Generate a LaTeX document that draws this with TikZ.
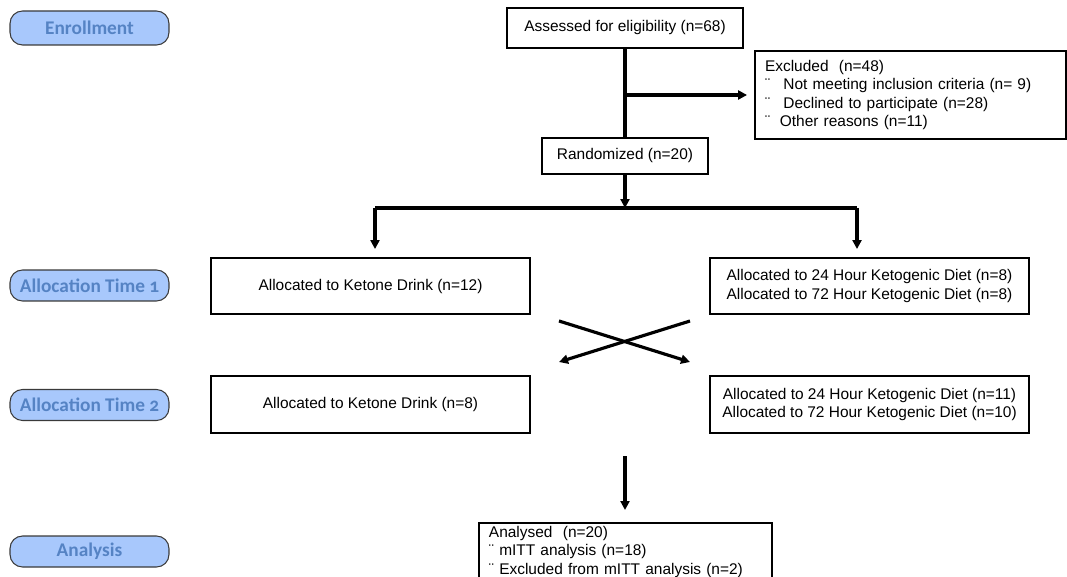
\documentclass[tikz,border=0pt]{standalone}
\usepackage{fontspec}
\setmainfont{Liberation Sans}
\newfontfamily\labelfont{Carlito}[Numbers=OldStyle]
\usepackage{tikz}
\usetikzlibrary{arrows.meta, positioning}
\definecolor{labelfill}{HTML}{A8C8FC}
\definecolor{labeltext}{HTML}{5583C4}
\definecolor{labeldraw}{HTML}{3A3A3A}

\begin{document}
\begin{tikzpicture}[
    x=0.02cm, y=-0.02cm,
    stagebox/.style={rectangle, rounded corners=2.5mm, fill=labelfill, draw=labeldraw, line width=0.6pt,
                     minimum width=3.18cm, minimum height=0.62cm, inner sep=0pt,
                     text=labeltext, font=\labelfont\fontsize{11}{12}\selectfont\bfseries},
    flowbox/.style={rectangle, draw=black, line width=1.1pt, align=center, inner sep=0pt,
                    font=\fontsize{8.8}{10.5}\selectfont},
    listbox/.style={rectangle, draw=black, line width=1.1pt, align=left, inner xsep=0.2cm,
                    font=\fontsize{8.8}{10.6}\selectfont},
    flowline/.style={line width=1.8pt},
    flowarrow/.style={line width=1.8pt, -{Triangle[length=1.8mm, width=1.8mm]}}
]
\clip (0,0) rectangle (1067,577);

% stage labels on the left
\node[stagebox, minimum height=0.68cm] (enroll) at (89.5, 28) {Enrollment};
\node[stagebox] (alloc1) at (89.5, 285.5) {Allocation Time 1};
\node[stagebox] (alloc2) at (89.5, 405) {Allocation Time 2};
\node[stagebox] (anlys) at (89.5, 551.5) {Analysis};

% flow boxes
\node[flowbox, minimum width=4.72cm, minimum height=0.80cm] (assess) at (625, 28) {Assessed for eligibility (n=68)};
\node[listbox, text width=5.82cm, minimum height=1.76cm] (excl) at (910.5, 95) {Excluded\ \ (n=48)\\
  ¨\hspace{7.5pt}Not meeting inclusion criteria (n= 9)\\
  ¨\hspace{7.5pt}Declined to participate (n=28)\\
  ¨\hspace{5.5pt}Other reasons (n=11)};
\node[flowbox, minimum width=3.32cm, minimum height=0.72cm] (rand) at (625, 156) {Randomized (n=20)};

\node[flowbox, minimum width=6.38cm, minimum height=1.12cm] (drink1) at (370.5, 286) {Allocated to Ketone Drink (n=12)};
\node[flowbox, minimum width=6.38cm, minimum height=1.12cm] (diet1) at (869.5, 286) {Allocated to 24 Hour Ketogenic Diet (n=8)\\Allocated to 72 Hour Ketogenic Diet (n=8)};
\node[flowbox, minimum width=6.38cm, minimum height=1.14cm] (drink2) at (370.5, 404.5) {Allocated to Ketone Drink (n=8)};
\node[flowbox, minimum width=6.38cm, minimum height=1.14cm] (diet2) at (869.5, 404.5) {Allocated to 24 Hour Ketogenic Diet (n=11)\\Allocated to 72 Hour Ketogenic Diet (n=10)};

% bottom edge runs past the page, as in the source
\node[listbox, anchor=north west, inner ysep=0.06cm, text width=5.46cm, text depth=1.3cm] (anal) at (478, 522) {Analysed\ \ (n=20)\\
  ¨ mITT analysis (n=18)\\
  ¨ Excluded from mITT analysis (n=2)};

% connectors
\draw[flowline] (assess.south) -- (rand.north);
\draw[flowarrow] (assess.south |- excl.west) -- ([xshift=-0.14cm]excl.west);

\coordinate (split) at (625, 208);
\coordinate (splitL) at (375, 208);
\coordinate (splitR) at (857, 208);
\draw[flowarrow] (rand.south) -- (split);
\draw[flowline] (splitL) -- (splitR);
\draw[flowarrow, shorten >=0.16cm] (splitL) -- (splitL |- drink1.north);
\draw[flowarrow, shorten >=0.16cm] (splitR) -- (splitR |- diet1.north);

% crossover
\coordinate (crossNW) at (559, 321);
\coordinate (crossNE) at (690, 321);
\coordinate (crossSW) at (559, 362);
\coordinate (crossSE) at (690, 362);
\draw[flowarrow] (crossNW) -- (crossSE);
\draw[flowarrow] (crossNE) -- (crossSW);

\coordinate (mergeTop) at (625, 456);
\draw[flowarrow] (mergeTop) -- ([yshift=0.24cm]mergeTop |- anal.north);
\end{tikzpicture}
\end{document}
